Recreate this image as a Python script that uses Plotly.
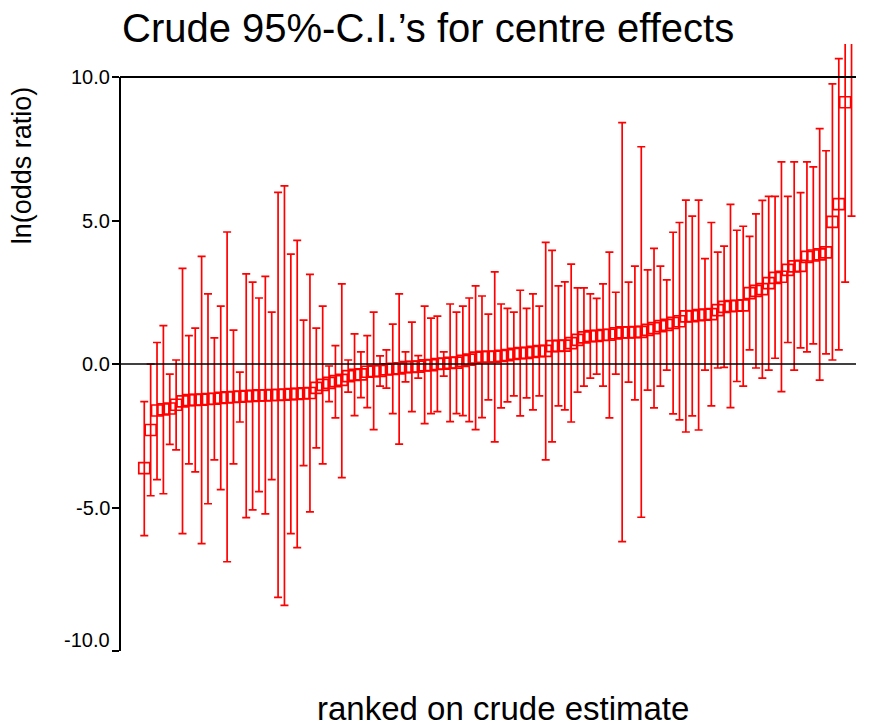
import plotly.graph_objects as go

# rank of each centre (1 = lowest crude estimate)
rank = list(range(1, 113))

# crude estimates of ln(odds ratio)
estimate = [
    -3.63, -2.30, -1.62, -1.58, -1.55, -1.42, -1.30, -1.26, -1.25, -1.24,
    -1.22, -1.21, -1.18, -1.16, -1.15, -1.14, -1.12, -1.11, -1.09, -1.09,
    -1.08, -1.08, -1.07, -1.05, -1.04, -1.02, -1.01, -0.83, -0.73, -0.66,
    -0.60, -0.55, -0.42, -0.38, -0.36, -0.27, -0.25, -0.24, -0.19, -0.17,
    -0.15, -0.11, -0.10, -0.09, -0.05, -0.04, 0.00, 0.01, 0.04, 0.05,
    0.11, 0.15, 0.22, 0.25, 0.25, 0.26, 0.28, 0.31, 0.35, 0.38,
    0.39, 0.42, 0.45, 0.46, 0.62, 0.63, 0.64, 0.73, 0.84, 0.93,
    0.97, 0.98, 1.01, 1.02, 1.07, 1.10, 1.10, 1.11, 1.12, 1.19,
    1.25, 1.32, 1.36, 1.43, 1.49, 1.66, 1.67, 1.70, 1.72, 1.74,
    1.88, 1.99, 2.02, 2.03, 2.04, 2.47, 2.55, 2.61, 2.82, 3.00,
    3.04, 3.28, 3.40, 3.42, 3.73, 3.78, 3.82, 3.89, 4.95, 5.57,
    9.12, 12.60,
]

# upper 95% limits
upper = [
    -1.31, 0.00, 0.75, 1.34, -0.35, 0.14, 3.33, 0.99, 1.25, 3.75,
    2.44, 0.91, 2.02, 4.60, 1.18, -0.28, 3.14, 2.85, 2.30, 3.05,
    1.81, 5.98, 6.21, 3.83, 4.31, 1.53, 3.12, 1.25, 2.02, -0.07,
    0.64, 2.79, 0.14, 1.05, 0.42, 0.99, 1.81, 0.28, 0.49, 1.39,
    2.44, 0.42, 1.46, 0.29, 2.02, 1.60, 1.67, 0.42, 2.09, 1.81,
    2.02, 2.30, 2.72, 2.37, 1.74, 3.21, 2.09, 1.94, 1.81, 2.57,
    1.94, 2.44, 2.02, 4.24, 3.96, 2.72, 2.86, 3.48, 2.65, 2.65,
    2.44, 2.29, 2.79, 3.90, 2.50, 8.41, 2.85, 3.41, 7.57, 3.28,
    4.03, 3.41, 2.93, 4.59, 4.93, 5.71, 5.15, 5.71, 3.67, 4.93,
    3.90, 4.11, 5.56, 4.66, 4.80, 4.45, 5.23, 5.70, 5.84, 5.84,
    7.04, 5.84, 7.04, 5.97, 7.04, 6.87, 8.20, 7.43, 9.76, 10.64,
    15.40, 20.00,
]

# lower 95% limits
lower = [
    -5.98, -4.59, -4.03, -4.52, -2.80, -2.99, -5.91, -3.48, -3.76, -6.26,
    -4.87, -3.34, -4.38, -6.89, -3.48, -2.02, -5.35, -5.08, -4.45, -5.22,
    -4.03, -8.13, -8.41, -5.91, -6.40, -3.54, -5.15, -2.92, -3.48, -1.31,
    -1.88, -3.96, -0.98, -1.80, -1.17, -1.52, -2.29, -0.77, -0.84, -1.73,
    -2.79, -0.62, -1.66, -0.49, -2.08, -1.73, -1.66, -0.42, -2.01, -1.73,
    -1.80, -2.01, -2.29, -1.87, -1.25, -2.71, -1.53, -1.32, -1.11, -1.81,
    -1.18, -1.60, -1.11, -3.34, -2.71, -1.46, -1.60, -2.02, -0.98, -0.77,
    -0.49, -0.35, -0.77, -1.88, -0.35, -6.19, -0.63, -1.25, -5.34, -0.91,
    -1.53, -0.77, -0.21, -1.74, -1.95, -2.37, -1.81, -2.30, -0.21, -1.46,
    -0.14, -0.12, -1.52, -0.61, -0.77, 0.49, -0.14, -0.49, -0.21, 0.20,
    -0.96, 0.75, -0.21, 0.56, 0.42, 0.70, -0.56, 0.35, 0.14, 0.49,
    2.85, 5.15,
]

tick_values = [-10, -5, 0, 5, 10]
tick_labels = ["-10.0", "-5.0", "0.0", "5.0", "10.0"]

title_text = "Crude 95%-C.I.\u2019s for centre effects"
y_title = "ln(odds ratio)"
x_title = "ranked on crude estimate"

err_plus = [u - e for u, e in zip(upper, estimate)]
err_minus = [e - l for e, l in zip(estimate, lower)]

FONT = "Arial, Liberation Sans, Helvetica, sans-serif"
RED = "#ff0000"

fig = go.Figure()
fig.add_trace(go.Scatter(
    x=rank, y=estimate, mode="markers",
    marker=dict(symbol="square-open", size=11, color=RED,
                line=dict(color=RED, width=1.7)),
    error_y=dict(type="data", symmetric=False, array=err_plus,
                 arrayminus=err_minus, color=RED, thickness=1.7, width=4),
    showlegend=False, hoverinfo="skip",
))

# tick labels as annotations (the bottom one sits slightly above its tick)
tick_annots = []
for v, t in zip(tick_values, tick_labels):
    tick_annots.append(dict(
        text=t, xref="paper", yref="y", x=0, y=v, xshift=-8,
        yshift=11 if v == min(tick_values) else 0,
        xanchor="right", yanchor="middle", showarrow=False,
        font=dict(size=20, family=FONT)))

fig.update_layout(
    width=876, height=727,
    margin=dict(l=120, r=20, t=44, b=76, pad=0),
    paper_bgcolor="white", plot_bgcolor="white",
    font=dict(family=FONT, color="black"),
    xaxis=dict(range=[-2.81, 112.7], visible=False, showgrid=False,
               zeroline=False),
    yaxis=dict(range=[-10, 11.15], showgrid=False, zeroline=False,
               showline=False, ticks="outside", ticklen=7, tickwidth=2,
               tickcolor="black", tickvals=tick_values,
               showticklabels=False),
    shapes=[
        dict(type="line", xref="paper", yref="y", x0=0, x1=0, y0=-10, y1=10,
             line=dict(color="black", width=2)),
        dict(type="line", xref="paper", yref="y", x0=0, x1=1, y0=10, y1=10,
             line=dict(color="black", width=2)),
        dict(type="line", xref="paper", yref="y", x0=0, x1=1, y0=0, y1=0,
             line=dict(color="black", width=1.6)),
    ],
    annotations=tick_annots + [
        dict(text=title_text, xref="paper", yref="paper", x=0, y=1.026,
             xanchor="left", yanchor="middle", showarrow=False,
             font=dict(size=40, family=FONT)),
        dict(text=y_title, xref="paper", yref="paper", x=-0.132, y=0.80,
             xanchor="center", yanchor="middle", textangle=-90,
             showarrow=False, font=dict(size=27, family=FONT)),
        dict(text=x_title, xref="paper", yref="paper", x=0.52, y=-0.094,
             xanchor="center", yanchor="middle", showarrow=False,
             font=dict(size=33, family=FONT)),
    ],
)

fig.write_html(
    "out.html",
    config={"displayModeBar": False},
    post_script="document.body.style.margin='0';document.body.style.overflow='hidden';",
)
